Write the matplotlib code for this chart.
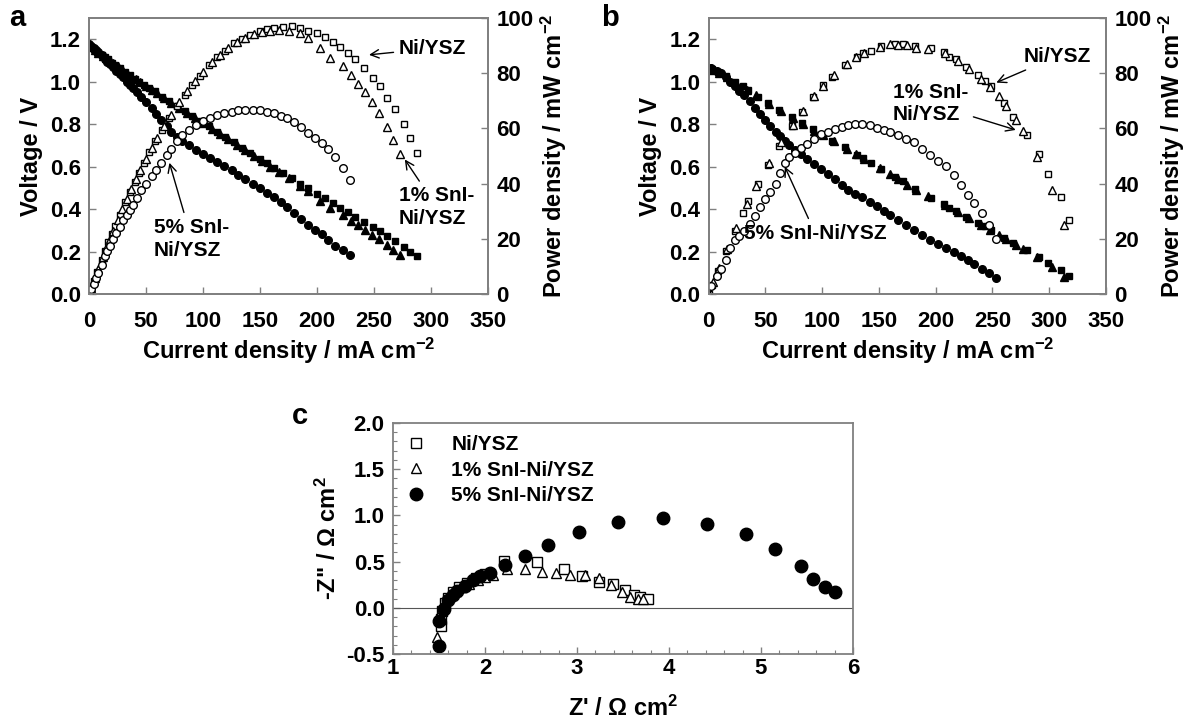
import numpy as np
import matplotlib
matplotlib.use("Agg")
import matplotlib.pyplot as plt
from matplotlib.ticker import MultipleLocator

plt.rcParams['font.family'] = ['Liberation Sans', 'DejaVu Sans']
plt.rcParams['font.weight'] = 'bold'
plt.rcParams['mathtext.fontset'] = 'custom'
plt.rcParams['mathtext.rm'] = 'Liberation Sans:bold'
plt.rcParams['mathtext.bf'] = 'Liberation Sans:bold'
plt.rcParams['mathtext.default'] = 'regular'

# ---- panel a : current density (mA cm-2), voltage (V), power (mW cm-2)
a_ni_i = [0, 1, 4, 7, 11, 14, 17, 20, 23, 27, 32, 36, 40, 44, 48, 53, 58, 64, 70, 77, 84, 90, 97, 105, 112,
          119, 127, 134, 141, 150, 156, 162, 170, 178, 185, 192, 200, 207, 214, 220, 227, 233, 241, 249, 255,
          261, 268, 276, 282, 288]
a_ni_v = [1.17, 1.165, 1.155, 1.14, 1.125, 1.115, 1.105, 1.09, 1.08, 1.065, 1.045, 1.03, 1.015, 1.0, 0.985,
          0.97, 0.955, 0.93, 0.91, 0.885, 0.86, 0.84, 0.815, 0.79, 0.765, 0.74, 0.715, 0.69, 0.665, 0.635,
          0.615, 0.595, 0.57, 0.545, 0.52, 0.497, 0.472, 0.45, 0.427, 0.407, 0.385, 0.365, 0.34, 0.315,
          0.295, 0.272, 0.25, 0.223, 0.2, 0.177]
a_ni_p = [0, 1.2, 4.6, 8.0, 12.4, 15.6, 18.8, 21.8, 24.8, 28.8, 33.4, 37.1, 40.6, 44.0, 47.3, 51.4, 55.4,
          59.5, 63.7, 68.1, 72.2, 75.6, 79.1, 83.0, 85.7, 88.1, 90.8, 92.5, 93.8, 95.3, 95.9, 96.4, 96.9,
          97.0, 96.2, 95.4, 94.4, 93.2, 91.4, 89.5, 87.4, 85.0, 81.9, 78.4, 75.2, 71.0, 67.0, 61.5, 56.4, 51.0]

a_1_i = [0, 2, 5, 8, 12, 15, 18, 21, 25, 29, 33, 37, 41, 45, 50, 55, 60, 66, 72, 79, 86, 93, 100, 108, 115,
         122, 130, 137, 145, 152, 159, 167, 175, 185, 192, 203, 211, 223, 230, 236, 242, 248, 254, 261, 267, 273]
a_1_v = [1.17, 1.162, 1.15, 1.137, 1.122, 1.112, 1.1, 1.088, 1.073, 1.058, 1.043, 1.027, 1.012, 0.997, 0.98,
         0.962, 0.945, 0.923, 0.9, 0.878, 0.853, 0.83, 0.806, 0.778, 0.753, 0.73, 0.703, 0.678, 0.65, 0.625,
         0.6, 0.573, 0.545, 0.51, 0.484, 0.44, 0.405, 0.37, 0.345, 0.323, 0.302, 0.28, 0.258, 0.232, 0.209, 0.186]
a_1_p = [0, 2.3, 5.8, 9.1, 13.5, 16.7, 19.8, 22.8, 26.8, 30.7, 34.4, 38.0, 41.5, 44.9, 49.0, 52.9, 56.7,
         60.9, 64.8, 69.4, 73.4, 77.2, 80.6, 84.0, 86.6, 89.1, 91.4, 92.9, 94.3, 95.0, 95.4, 95.7, 95.4,
         94.4, 92.9, 89.3, 85.5, 82.5, 79.4, 76.2, 73.1, 69.4, 65.5, 60.6, 55.8, 50.8]

a_5_i = [0, 2, 4, 6, 8, 11, 14, 16, 18, 21, 24, 27, 30, 33, 36, 39, 42, 46, 50, 55, 59, 63, 68, 72, 77, 82,
         88, 94, 100, 106, 112, 118, 125, 131, 137, 144, 150, 156, 162, 168, 174, 180, 186, 192, 198, 204,
         210, 216, 223, 229]
a_5_v = [1.178, 1.17, 1.16, 1.15, 1.14, 1.125, 1.105, 1.095, 1.085, 1.07, 1.05, 1.035, 1.02, 1.0, 0.985,
         0.97, 0.95, 0.93, 0.905, 0.876, 0.85, 0.82, 0.79, 0.762, 0.74, 0.72, 0.7, 0.68, 0.66, 0.64, 0.622,
         0.603, 0.582, 0.562, 0.54, 0.52, 0.497, 0.475, 0.455, 0.435, 0.41, 0.38, 0.355, 0.325, 0.303,
         0.283, 0.255, 0.227, 0.205, 0.182]
a_5_p = [0, 1.8, 3.8, 5.7, 7.5, 10.6, 13.6, 15.4, 17.5, 19.8, 22.0, 24.4, 26.8, 28.8, 30.6, 32.4, 34.8,
         37.7, 40.0, 42.6, 45.0, 47.5, 50.4, 52.6, 55.5, 57.6, 59.6, 61.2, 62.6, 63.8, 64.8, 65.5, 66.1,
         66.5, 66.7, 66.7, 66.5, 66.1, 65.5, 64.6, 63.6, 62.2, 60.6, 58.4, 56.5, 54.8, 52.5, 49.6, 45.5, 41.3]

# ---- panel b
b_ni_i = [0, 3, 8, 15, 23, 30, 35, 43, 52, 62, 73, 82, 92, 101, 109, 120, 131, 136, 143, 152, 164, 171,
          182, 196, 207, 212, 218, 227, 237, 243, 249, 260, 268, 280, 291, 299, 310, 317]
b_ni_v = [1.065, 1.058, 1.045, 1.025, 1.0, 0.978, 0.962, 0.93, 0.9, 0.868, 0.835, 0.805, 0.775, 0.75, 0.722,
          0.692, 0.656, 0.64, 0.615, 0.59, 0.552, 0.53, 0.493, 0.454, 0.424, 0.406, 0.39, 0.362, 0.334,
          0.318, 0.302, 0.266, 0.24, 0.206, 0.174, 0.145, 0.114, 0.085]
b_ni_p = [0, 3.2, 8.4, 15.4, 23.0, 29.3, 33.7, 40.0, 46.8, 53.8, 61.0, 66.0, 71.3, 75.8, 78.7, 83.0, 86.0,
          87.2, 88.0, 89.7, 90.5, 90.6, 89.7, 89.0, 87.8, 86.0, 85.2, 82.2, 79.2, 77.3, 75.2, 69.2, 64.3,
          57.7, 50.6, 43.4, 35.3, 26.9]

b_1_i = [0, 4, 9, 16, 24, 34, 42, 53, 64, 74, 83, 93, 101, 110, 122, 130, 137, 151, 160, 167, 175, 183,
         193, 208, 220, 229, 240, 248, 256, 262, 271, 277, 289, 302, 313]
b_1_v = [1.065, 1.055, 1.042, 1.02, 0.995, 0.962, 0.935, 0.896, 0.862, 0.83, 0.8, 0.77, 0.748, 0.72, 0.683,
         0.66, 0.638, 0.593, 0.565, 0.54, 0.515, 0.488, 0.46, 0.42, 0.384, 0.356, 0.325, 0.303, 0.28, 0.26,
         0.233, 0.213, 0.172, 0.125, 0.08]
b_1_p = [0, 4.2, 9.4, 16.3, 23.9, 32.7, 39.3, 47.5, 55.2, 61.4, 66.4, 71.6, 75.5, 79.2, 83.3, 85.8, 87.4,
         89.5, 90.4, 90.2, 90.1, 89.3, 88.8, 87.4, 84.5, 81.5, 78.0, 75.1, 71.7, 68.1, 63.1, 59.0, 49.7,
         37.8, 25.0]

b_5_i = [2, 7, 11, 15, 19, 23, 27, 31, 36, 41, 45, 50, 54, 59, 63, 67, 71, 76, 81, 87, 93, 99, 105, 111,
         117, 123, 129, 135, 142, 148, 154, 160, 167, 174, 181, 188, 195, 202, 209, 216, 222, 228, 234, 241,
         247, 253]
b_5_v = [1.066, 1.052, 1.04, 1.022, 1.0, 0.978, 0.955, 0.935, 0.908, 0.876, 0.85, 0.818, 0.79, 0.765, 0.742,
         0.72, 0.7, 0.68, 0.66, 0.635, 0.612, 0.59, 0.565, 0.54, 0.515, 0.49, 0.472, 0.455, 0.432, 0.413,
         0.392, 0.373, 0.35, 0.325, 0.3, 0.277, 0.255, 0.235, 0.218, 0.197, 0.178, 0.16, 0.142, 0.12, 0.1,
         0.076]
b_5_p = [3.0, 6.5, 9.0, 12.5, 16.5, 19.5, 21.0, 23.0, 25.5, 28.3, 31.5, 34.5, 37.0, 40.0, 44.0, 47.5, 49.5,
         51.0, 52.8, 54.5, 56.3, 57.8, 58.8, 59.8, 60.5, 61.2, 61.6, 61.7, 61.2, 60.3, 59.4, 58.6, 57.5,
         56.3, 54.9, 52.5, 50.3, 48.2, 46.2, 43.0, 39.5, 36.0, 33.0, 29.5, 25.0, 20.0]

# ---- panel c : impedance spectra (ohm cm2)
c_ni_re = [1.52, 1.52, 1.53, 1.56, 1.6, 1.65, 1.72, 1.8, 1.9, 2.0, 2.21, 2.56, 2.86, 3.05, 3.24, 3.39,
           3.52, 3.62, 3.69, 3.77]
c_ni_im = [-0.2, -0.12, -0.04, 0.05, 0.11, 0.17, 0.22, 0.27, 0.32, 0.37, 0.51, 0.5, 0.42, 0.34, 0.28,
           0.26, 0.19, 0.14, 0.12, 0.09]
c_1_re = [1.48, 1.51, 1.53, 1.57, 1.62, 1.68, 1.75, 1.83, 1.92, 2.0, 2.09, 2.24, 2.43, 2.62, 2.77, 2.92,
          3.09, 3.24, 3.37, 3.49, 3.58, 3.66, 3.72]
c_1_im = [-0.32, -0.1, 0.0, 0.07, 0.13, 0.18, 0.22, 0.26, 0.3, 0.33, 0.35, 0.42, 0.42, 0.39, 0.38, 0.36,
          0.35, 0.32, 0.25, 0.17, 0.12, 0.1, 0.09]
c_5_re = [1.5, 1.5, 1.55, 1.6, 1.65, 1.7, 1.78, 1.87, 1.95, 2.05, 2.22, 2.43, 2.68, 3.02, 3.45, 3.93, 4.41,
          4.84, 5.15, 5.44, 5.57, 5.7, 5.8]
c_5_im = [-0.41, -0.14, -0.01, 0.08, 0.14, 0.18, 0.24, 0.3, 0.34, 0.38, 0.46, 0.56, 0.68, 0.82, 0.93,
          0.97, 0.91, 0.8, 0.64, 0.45, 0.31, 0.22, 0.17]

names = ['Ni/YSZ', '1% SnI-Ni/YSZ', '5% SnI-Ni/YSZ']

W, H = 1198, 725
fig = plt.figure(figsize=(W / 100, H / 100), dpi=100)

spine_col = '#808080'
tick_fs = 16
lab_fs = 17
ann_fs = 15


def box(x0, y0, x1, y1):
    # pixel box (top-left origin) -> figure fraction rect
    return [x0 / W, 1 - y1 / H, (x1 - x0) / W, (y1 - y0) / H]


def style(ax):
    for s in ax.spines.values():
        s.set_color(spine_col)
        s.set_linewidth(1.3)
    ax.tick_params(direction='in', length=5, width=1, color=spine_col, labelsize=tick_fs, pad=6)


def jv_panel(rect, letter, letter_x, ni, one, five, annots):
    ax = fig.add_axes(rect)
    ax2 = ax.twinx()
    (ni_i, ni_v, ni_p), (o_i, o_v, o_p), (f_i, f_v, f_p) = ni, one, five
    ax.plot(ni_i, ni_v, 's', color='k', ms=5, ls='none')
    ax.plot(o_i, o_v, '^', color='k', ms=5.5, ls='none')
    ax.plot(f_i, f_v, 'o', color='k', ms=5.5, ls='none')
    ax2.plot(ni_i, ni_p, 's', mfc='white', mec='k', mew=1, ms=5, ls='none')
    ax2.plot(o_i, o_p, '^', mfc='white', mec='k', mew=1, ms=5.5, ls='none')
    ax2.plot(f_i, f_p, 'o', mfc='white', mec='k', mew=1, ms=5.5, ls='none')

    ax.set_xlim(0, 350)
    ax.set_ylim(0, 1.3)
    ax2.set_ylim(0, 100)
    ax.set_xticks(np.arange(0, 351, 50))
    ax.set_yticks(np.arange(0, 1.21, 0.2))
    ax2.set_yticks(np.arange(0, 101, 20))
    ax.yaxis.set_major_formatter(plt.FormatStrFormatter('%.1f'))
    style(ax)
    style(ax2)
    ax.tick_params(axis='x', pad=12)
    ax.set_xlabel('Current density / mA cm$^{-2}$', fontsize=lab_fs, fontweight='bold', labelpad=3)
    ax.set_ylabel('Voltage / V', fontsize=lab_fs, fontweight='bold', labelpad=5)
    ax2.set_ylabel('Power density / mW cm$^{-2}$', fontsize=lab_fs, fontweight='bold', labelpad=4)
    ax.text(letter_x, 1.0, letter, transform=ax.transAxes, fontsize=21, fontweight='bold', va='center')
    for text, xy, xytext, ha in annots:
        ax2.annotate(text, xy=xy, xytext=xytext, fontsize=ann_fs, fontweight='bold', ha=ha, va='center',
                     linespacing=1.25,
                     arrowprops=dict(arrowstyle='->', color='k', lw=1, shrinkA=2, shrinkB=3))
    return ax, ax2


jv_panel(box(89, 18, 488, 294), 'a', -0.2,
         (a_ni_i, a_ni_v, a_ni_p), (a_1_i, a_1_v, a_1_p), (a_5_i, a_5_v, a_5_p),
         [('Ni/YSZ', (242, 86.5), (272, 89), 'left'),
          ('1% SnI-\nNi/YSZ', (275, 50), (272, 31.5), 'left'),
          ('5% SnI-\nNi/YSZ', (69.5, 49), (57, 20), 'left')])

jv_panel(box(708.7, 18, 1106, 294), 'b', -0.27,
         (b_ni_i, b_ni_v, b_ni_p), (b_1_i, b_1_v, b_1_p), (b_5_i, b_5_v, b_5_p),
         [('Ni/YSZ', (250, 76), (277, 86), 'left'),
          ('1% SnI-\nNi/YSZ', (274, 59), (162, 69), 'left'),
          ('5% SnI-Ni/YSZ', (65.5, 47.5), (31, 22), 'left')])

axc = fig.add_axes(box(393, 423, 853, 654))
axc.axhline(0, color='#555555', lw=0.8)
axc.plot(c_ni_re, c_ni_im, 's', mfc='white', mec='k', mew=1, ms=6.5, ls='none', label=names[0])
axc.plot(c_1_re, c_1_im, '^', mfc='white', mec='k', mew=1, ms=7, ls='none', label=names[1])
axc.plot(c_5_re, c_5_im, 'o', color='k', ms=9, ls='none', label=names[2])
axc.set_xlim(1, 6)
axc.set_ylim(-0.5, 2.0)
axc.set_xticks(np.arange(1, 6.1, 1))
axc.set_yticks(np.arange(-0.5, 2.01, 0.5))
axc.yaxis.set_major_formatter(plt.FormatStrFormatter('%.1f'))
axc.xaxis.set_minor_locator(MultipleLocator(0.2))
axc.yaxis.set_minor_locator(MultipleLocator(0.1))
style(axc)
axc.tick_params(axis='x', pad=3)
axc.tick_params(which='minor', direction='in', length=3, width=0.8, color=spine_col)
axc.set_xlabel("Z' / Ω cm$^{2}$", fontsize=lab_fs, fontweight='bold', labelpad=12)
axc.set_ylabel('-Z" / Ω cm$^{2}$', fontsize=lab_fs, fontweight='bold', labelpad=4)
axc.text(-0.22, 1.03, 'c', transform=axc.transAxes, fontsize=21, fontweight='bold', va='center')
leg = axc.legend(loc='upper left', frameon=False, fontsize=15, handletextpad=1.2, borderaxespad=0.2,
                 labelspacing=0.3, handlelength=1.0)

fig.savefig('out.png', dpi=100)
